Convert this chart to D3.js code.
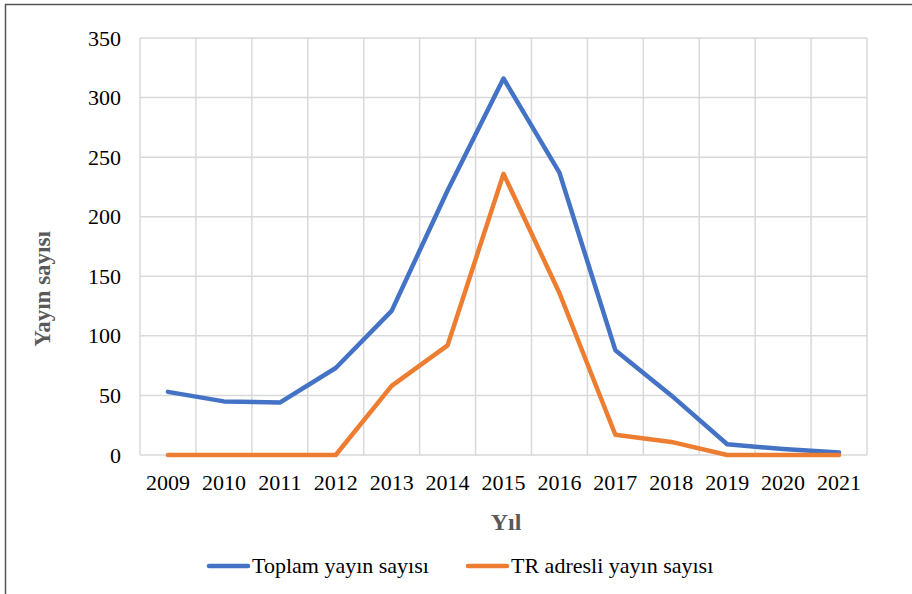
<!DOCTYPE html>
<html>
<head>
<meta charset="utf-8">
<script src="https://cdn.jsdelivr.net/npm/d3@7"></script>
<style>
  body { margin: 0; background: #fff; }
  svg { display: block; font-family: "Liberation Serif", "Times New Roman", serif; }
</style>
</head>
<body>
<div id="plot"></div>
<script>
const years = ["2009", "2010", "2011", "2012", "2013", "2014", "2015", "2016", "2017", "2018", "2019", "2020", "2021"];
const toplam = [53, 45, 44, 73, 121, 222, 316, 237, 88, 50, 9, 5, 2];
const trAdresli = [0, 0, 0, 0, 58, 92, 236, 136, 17, 11, 0, 0, 0];
const yTicks = [0, 50, 100, 150, 200, 250, 300, 350];
const seriesNames = ["Toplam yayın sayısı", "TR adresli yayın sayısı"];
const colors = ["#4472c4", "#ed7d31"];

const W = 912, H = 594;
const margin = {left: 140, top: 38, right: 45, bottom: 139};
const width = W - margin.left - margin.right;
const height = H - margin.top - margin.bottom;

const svg = d3.select("#plot").append("svg")
  .attr("width", W)
  .attr("height", H);

// outer frame (top and left edges visible)
svg.append("line").attr("x1", 5).attr("x2", W).attr("y1", 4.5).attr("y2", 4.5)
  .attr("stroke", "#555").attr("stroke-width", 1.5);
svg.append("line").attr("x1", 5.5).attr("x2", 5.5).attr("y1", 4).attr("y2", H)
  .attr("stroke", "#555").attr("stroke-width", 1.5);

const g = svg.append("g").attr("transform", `translate(${margin.left}, ${margin.top})`);

const xBand = d3.scaleBand().domain(years).range([0, width]).padding(0);
const x = d => xBand(d) + xBand.bandwidth() / 2;
const y = d3.scaleLinear().domain([0, 350]).range([height, 0]);

// horizontal gridlines
g.append("g")
  .selectAll("line")
  .data(yTicks)
  .join("line")
  .attr("x1", 0).attr("x2", width)
  .attr("y1", d => y(d)).attr("y2", d => y(d))
  .attr("stroke", "#d9d9d9").attr("stroke-width", 1.5);

// vertical gridlines at category boundaries
g.append("g")
  .selectAll("line")
  .data(d3.range(years.length + 1))
  .join("line")
  .attr("x1", i => i * xBand.bandwidth()).attr("x2", i => i * xBand.bandwidth())
  .attr("y1", 0).attr("y2", height)
  .attr("stroke", "#d9d9d9").attr("stroke-width", 1.5);

// Y axis labels
const yAxis = g.append("g")
  .call(d3.axisLeft(y).tickValues(yTicks).tickSize(0).tickPadding(19));
yAxis.select(".domain").remove();
yAxis.selectAll("text")
  .attr("font-family", "Liberation Serif, serif")
  .attr("font-size", 22)
  .attr("fill", "#000");

// X axis labels
const xAxis = g.append("g")
  .attr("transform", `translate(0, ${height})`)
  .call(d3.axisBottom(xBand).tickSize(0).tickPadding(19));
xAxis.select(".domain").remove();
xAxis.selectAll("text")
  .attr("font-family", "Liberation Serif, serif")
  .attr("font-size", 22)
  .attr("fill", "#000");

// axis titles
svg.append("text")
  .attr("x", 506).attr("y", 530)
  .attr("text-anchor", "middle")
  .attr("font-size", 24).attr("font-weight", "bold")
  .attr("fill", "#595959")
  .text("Yıl");

svg.append("text")
  .attr("transform", "translate(50, 289) rotate(-90)")
  .attr("text-anchor", "middle")
  .attr("font-size", 23).attr("font-weight", "bold")
  .attr("fill", "#595959")
  .text("Yayın sayısı");

// lines
const line = d3.line()
  .x((d, i) => x(years[i]))
  .y(d => y(d));

[toplam, trAdresli].forEach((s, k) => {
  g.append("path")
    .datum(s)
    .attr("fill", "none")
    .attr("stroke", colors[k])
    .attr("stroke-width", 4.5)
    .attr("stroke-linejoin", "round")
    .attr("stroke-linecap", "round")
    .attr("d", line);
});

// legend
const legendX = [209, 468];
seriesNames.forEach((name, k) => {
  const lg = svg.append("g").attr("transform", `translate(${legendX[k]}, 566)`);
  lg.append("line")
    .attr("x1", 0).attr("x2", 39).attr("y1", 0).attr("y2", 0)
    .attr("stroke", colors[k]).attr("stroke-width", 4.5)
    .attr("stroke-linecap", "round");
  lg.append("text")
    .attr("x", 43).attr("y", 7)
    .attr("font-size", 22)
    .attr("fill", "#000")
    .text(name);
});
</script>
</body>
</html>
